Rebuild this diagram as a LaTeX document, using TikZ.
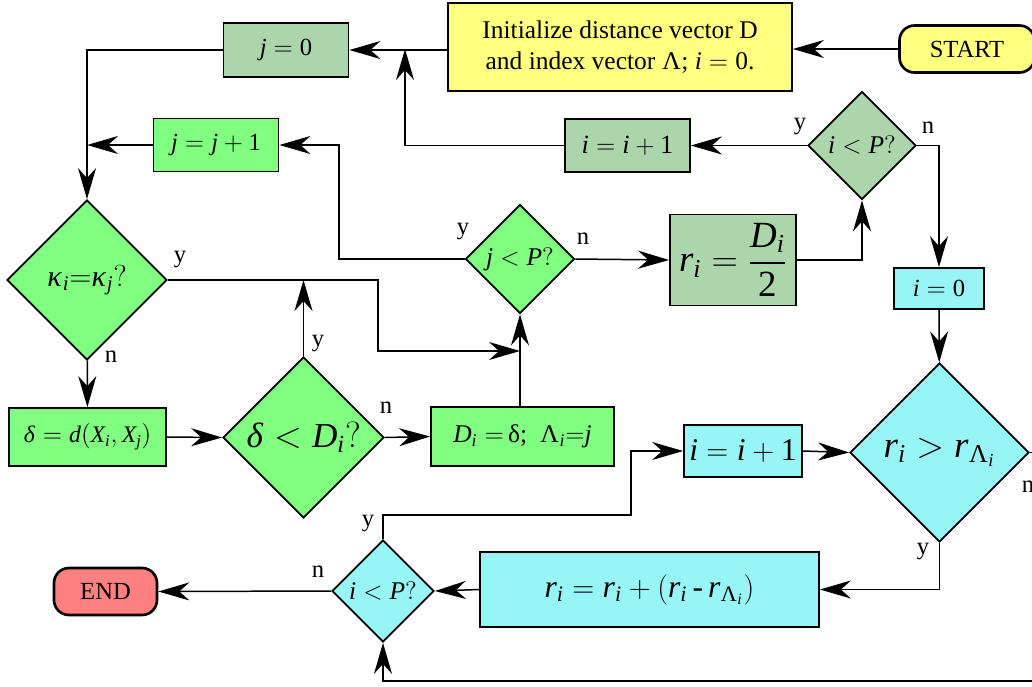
\documentclass[tikz,border=0pt]{standalone}
\usepackage{amsmath}
\usepackage{mathspec}
\setmainfont{Liberation Serif}
\setmathsfont(Digits,Latin)[Numbers={Lining}]{Liberation Serif}
\setmathsfont(Greek)[Uppercase=Regular,Lowercase=Italic]{Liberation Serif}
\usetikzlibrary{arrows.meta,shapes.geometric}
\definecolor{inityellow}{HTML}{FFFF80}
\definecolor{loopgreen}{HTML}{80FF80}
\definecolor{outergreen}{HTML}{ACD5AC}
\definecolor{rcyan}{HTML}{98F5F5}
\definecolor{endred}{HTML}{FF8080}

\begin{document}
\begin{tikzpicture}[x=0.2mm, y=-0.2mm,
    box/.style={rectangle, draw, line width=1pt, inner sep=2pt, align=center, font=\fontsize{14}{17}\selectfont},
    term/.style={rectangle, draw, line width=1.5pt, rounded corners=3mm, align=center, font=\fontsize{14}{16}\selectfont},
    decision/.style={diamond, draw, line width=1pt, aspect=1, inner sep=0pt, align=center, font=\fontsize{14.5}{16}\selectfont},
    arrow/.style={-{Stealth[length=6.2mm, width=3.6mm, inset=2mm]}, line width=0.85pt},
    yn/.style={inner sep=0pt, font=\fontsize{14}{16}\selectfont}
]
\useasboundingbox (0,0) rectangle (1032,686);
\clip (0,0) rectangle (1032,686);

% Initialisation
\node[term, fill=inityellow, minimum width=27mm, minimum height=9.4mm] (start) at (967,49) {START};
\node[box, fill=inityellow, minimum width=68.8mm, minimum height=17.6mm, font=\fontsize{14.5}{17.5}\selectfont] (init) at (620,47) {Initialize distance vector D\\and index vector $\Lambda$; $i=0$.};
\node[box, fill=outergreen, minimum width=25mm, minimum height=10.8mm] (jzero) at (286,50) {$j=0$};

% Inner loop over j
\node[box, fill=loopgreen, minimum width=25mm, minimum height=10.6mm] (jinc) at (216,145) {$j=j+1$};
\node[decision, fill=loopgreen, minimum width=32mm, minimum height=32mm, font=\fontsize{17}{19}\selectfont] (kappa) at (87,280) {$\kappa_i{=}\kappa_j?$};
\node[box, fill=loopgreen, minimum width=31.4mm, minimum height=11.6mm, font=\fontsize{13.5}{15}\selectfont] (dist) at (87.5,437) {$\delta=d(X_i,X_j)$};
\node[decision, fill=loopgreen, minimum width=32.2mm, minimum height=32.2mm, font=\fontsize{20}{22}\selectfont] (dlt) at (303.5,437.5) {$\delta<D_i?$};
\node[box, fill=loopgreen, minimum width=36.6mm, minimum height=11.8mm, font=\fontsize{14.5}{16}\selectfont] (upd) at (522.5,436.5) {$D_i=\,$δ;\ \ $\Lambda_i{=}j$};
\node[decision, fill=loopgreen, minimum width=21.8mm, minimum height=21.8mm] (jP) at (520,259) {$j<P?$};

% Outer loop over i
\node[box, fill=outergreen, minimum width=25.2mm, minimum height=18.2mm, font=\fontsize{21}{23}\selectfont] (rdiv) at (733,260) {$r_i=\dfrac{D_i}{2}$};
\node[decision, fill=outergreen, minimum width=21.6mm, minimum height=21.6mm] (iPtop) at (862,145.5) {$i<P?$};
\node[box, fill=outergreen, minimum width=25mm, minimum height=10.6mm, font=\fontsize{15}{17}\selectfont] (iinc) at (627.5,145.5) {$i=i+1$};
\coordinate (iback) at (405,49);

% Radius correction
\node[box, fill=rcyan, minimum width=18mm, minimum height=8.2mm] (izero) at (939,288.5) {$i=0$};
\node[decision, fill=rcyan, minimum width=35.8mm, minimum height=35.8mm, font=\fontsize{21}{23}\selectfont] (rgt) at (939.5,452.5) {$r_i>r_{\Lambda_i}$};
\node[box, fill=rcyan, minimum width=23.6mm, minimum height=10.4mm, font=\fontsize{18}{20}\selectfont] (icinc) at (743,451) {$i=i+1$};
\node[box, fill=rcyan, minimum width=67.8mm, minimum height=15mm, font=\fontsize{18}{20}\selectfont] (rupd) at (649.5,589.5) {$r_i=r_i+(r_i\,\text{-}\,r_{\Lambda_i})$};
\node[decision, fill=rcyan, minimum width=20.4mm, minimum height=20.4mm] (iPbot) at (383,591) {$i<P?$};
\node[term, fill=endred, minimum width=20.6mm, minimum height=9.4mm] (stop) at (105.5,591.5) {END};

% Connectors
\draw[arrow] (start.west) -- (init.east |- start.west);
\draw[arrow] (init.west |- jzero.east) -- (jzero.east);
\draw[arrow] (jzero.west) -| (kappa.north);
\draw[arrow] (jinc.west) -- (kappa.north |- jinc.west);
\draw[arrow] (kappa.east) -| (378,351) -- (jP.south |- 0,351);
\draw[arrow] (kappa) -- (dist);
\draw[arrow] (dist.east) -- (dlt.west);
\draw[arrow] (dlt.north) -- (dlt.north |- kappa.east);
\draw[arrow] (dlt.east) -- (upd.west);
\draw[arrow] (upd.north -| jP.south) -- (jP.south);
\draw[arrow] (jP.west) -| (339,200) |- (jinc.east);
\draw[arrow] (jP.east) -- (rdiv.west);
\draw[arrow] (rdiv.east) -| (iPtop.south);
\draw[arrow] (iPtop.west) -- (iinc.east);
\draw[arrow] (iinc.west) -| (iback);
\draw[arrow] (iPtop.east) -| (izero.north);
\draw[arrow] (izero) -- (rgt);
\draw[arrow] (rgt.south) |- (rupd.east);
\draw[arrow] (rupd.west) -- (iPbot.east);
\draw[arrow] (iPbot.west) -- (stop.east);
\draw[arrow] (iPbot.north) |- (631,515) |- (icinc.west);
\draw[arrow] (icinc.east) -- (rgt.west);
\draw[arrow] (rgt.east) -| (1045,681) -| (iPbot.south);

% Branch labels
\node[yn] (kyes) at (180,259) {y};
\node[yn] (kno) at (111,357) {n};
\node[yn] (dyes) at (318,343) {y};
\node[yn] (dno) at (386,408) {n};
\node[yn] (jyes) at (463,231) {y};
\node[yn] (jno) at (583,239) {n};
\node[yn] (ityes) at (800,127) {y};
\node[yn] (itno) at (928,128) {n};
\node[yn] (rno) at (1028,487) {n};
\node[yn] (ryes) at (923,551) {y};
\node[yn] (ibyes) at (368,523) {y};
\node[yn] (ibno) at (318,572) {n};
\end{tikzpicture}
\end{document}
